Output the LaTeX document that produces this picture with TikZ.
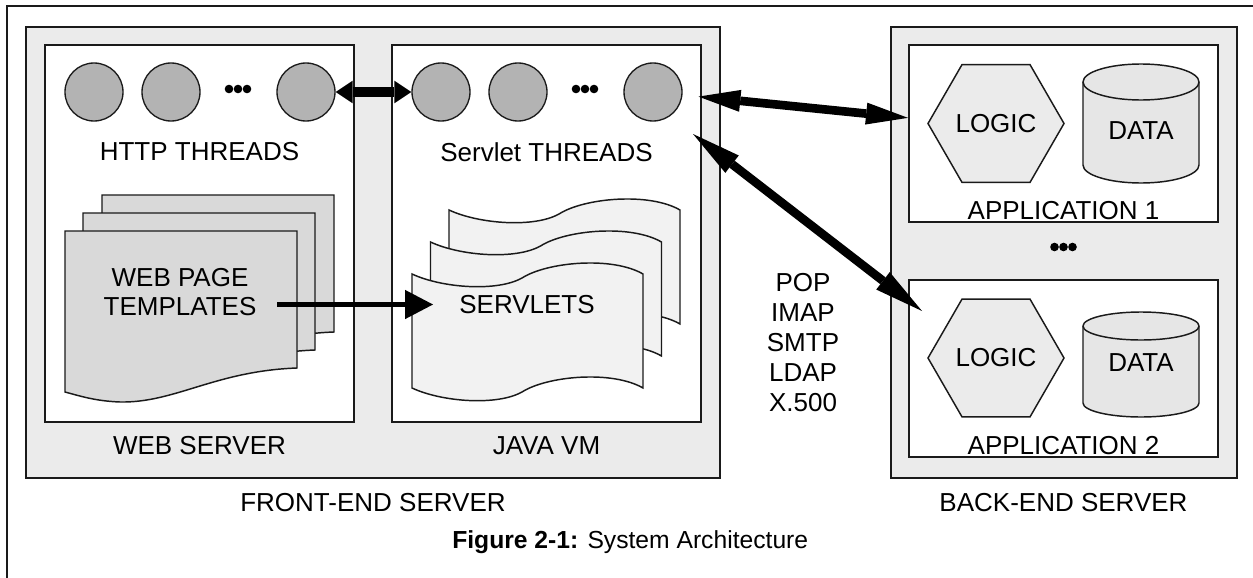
\documentclass[tikz,border=0pt]{standalone}
\usepackage{fontspec}
\setmainfont{Liberation Sans}
\usetikzlibrary{arrows.meta,shapes.geometric}
\definecolor{frontfill}{HTML}{EBEBEB}
\definecolor{circfill}{HTML}{B3B3B3}
\definecolor{pagefill}{HTML}{D9D9D9}
\definecolor{tapefill}{HTML}{F2F2F2}
\definecolor{hexfill}{HTML}{EBEBEB}
\definecolor{cylfill}{HTML}{E6E6E6}
\definecolor{ink}{HTML}{1A1A1A}
\tikzset{
  txt/.style={inner sep=0pt, text=black, font=\fontsize{19.5}{22}\selectfont},
  serverbox/.style={rectangle, draw=ink, line width=1.5pt, fill=frontfill, inner sep=0pt},
  innerbox/.style={rectangle, draw=ink, line width=1.5pt, fill=white, inner sep=0pt},
  thread/.style={circle, draw=ink, line width=1pt, fill=circfill, minimum size=43.5pt, inner sep=0pt},
  pageshape/.style={draw=ink, line width=1.1pt, fill=pagefill},
  tapeshape/.style={draw=ink, line width=1.1pt, fill=tapefill},
  hexa/.style={regular polygon, regular polygon sides=6, draw=ink, line width=1.1pt, fill=hexfill,
    minimum size=102pt, inner sep=0pt, text=black, font=\fontsize{19.5}{22}\selectfont},
  cyl/.style={draw=ink, line width=1.1pt, fill=cylfill},
  dotmark/.style={fill=black},
  threadarrow/.style={draw=black, line width=7.5pt,
    {Triangle[length=12.75pt,width=17pt,line width=0pt]}-{Triangle[length=12.75pt,width=17pt,line width=0pt]}},
  bearrowa/.style={draw=black, line width=6.5pt,
    {Triangle[length=31.5pt,width=16.5pt,line width=0pt]}-{Triangle[length=31.5pt,width=16.5pt,line width=0pt]}},
  bearrowb/.style={draw=black, line width=6.5pt,
    {Triangle[length=37pt,width=16.5pt,line width=0pt]}-{Triangle[length=37pt,width=16.5pt,line width=0pt]}},
  tplarrow/.style={draw=black, line width=3.75pt, -{Triangle[length=21pt,width=22pt,line width=0pt]}}
}
\begin{document}
\begin{tikzpicture}[x=0.75pt,y=-0.75pt]
\useasboundingbox (0,0) rectangle (1253,578);
\clip (0,0) rectangle (1253,578);
% outer frame
\draw[line width=1.5pt, ink] (6.5,600) -- (6.5,5.5) -- (1300,5.5);

% server boxes
\node[serverbox, minimum width=520.5pt, minimum height=338.25pt] (frontend) at (373,252.5) {};
\node[serverbox, minimum width=259.5pt, minimum height=338.25pt] (backend) at (1064,252.5) {};
\node[innerbox, minimum width=231.75pt, minimum height=282.75pt] (websrv) at (199.5,233.5) {};
\node[innerbox, minimum width=231.75pt, minimum height=282.75pt] (javavm) at (546.5,233.5) {};
\node[innerbox, minimum width=231.75pt, minimum height=132.75pt] (app1) at (1063.5,133.5) {};
\node[innerbox, minimum width=231.75pt, minimum height=132.75pt] (app2) at (1063.5,368.5) {};

% threads
\node[thread] (h1) at (94,92) {};
\node[thread] (h2) at (171,92) {};
\node[thread] (h3) at (306,92) {};
\node[thread] (s1) at (441,92) {};
\node[thread] (s2) at (518,92) {};
\node[thread] (s3) at (653,92) {};
\foreach \x in {229,238,247,576,585,594}{\fill[dotmark] (\x,89) circle[radius=4.3];}
\foreach \x in {1054.5,1063.5,1072.5}{\fill[dotmark] (\x,247) circle[radius=4.3];}
\node[txt] (httplbl) at (199.5,152) {HTTP THREADS};
\node[txt] (servletlbl) at (546.5,152) {Servlet THREADS};

% web page templates
\foreach \dx/\dy in {102/195,83/213,65/231}{
  \draw[pageshape, shift={(\dx,\dy)}] (0,0) -- (232,0) -- (232,137)
    .. controls (150,140) and (110,172) .. (55,171)
    .. controls (30,170) and (15,165) .. (0,161) -- cycle;
}
\node[txt, align=center] (tpl) at (180,292) {WEB PAGE\\TEMPLATES};

% servlets
\foreach \dx/\dy in {449/210,430.5/242,412/274}{
  \draw[tapeshape, shift={(\dx,\dy)}] (0,0)
    .. controls (30,14) and (85,18) .. (110,4)
    .. controls (135,-12) and (200,-18) .. (231,0) -- (231,114)
    .. controls (200,96) and (135,102) .. (110,118)
    .. controls (85,132) and (30,128) .. (0,114) -- cycle;
}
\node[txt] (servlets) at (527,305) {SERVLETS};

% back-end contents
\node[hexa] (logic1) at (996,123.5) {LOGIC};
\node[hexa] (logic2) at (996,358) {LOGIC};
\draw[cyl] (1083,82) -- (1083,165) arc[start angle=180,end angle=0,x radius=58,y radius=18]
  -- (1199,82) arc[start angle=0,end angle=-180,x radius=58,y radius=18] -- cycle;
\draw[cyl, fill=none] (1083,82) arc[start angle=180,end angle=0,x radius=58,y radius=18];
\draw[cyl] (1083,326) -- (1083,403) arc[start angle=180,end angle=0,x radius=58,y radius=14]
  -- (1199,326) arc[start angle=0,end angle=-180,x radius=58,y radius=14] -- cycle;
\draw[cyl, fill=none] (1083,326) arc[start angle=180,end angle=0,x radius=58,y radius=14];
\node[txt] (data1) at (1141,130.5) {DATA};
\node[txt] (data2) at (1141,363) {DATA};
\node[txt] (app1lbl) at (1063.5,211) {APPLICATION 1};
\node[txt] (app2lbl) at (1063.5,446) {APPLICATION 2};

% box labels
\node[txt] (websrvlbl) at (199.5,446) {WEB SERVER};
\node[txt] (javalbl) at (546.5,446) {JAVA VM};
\node[txt] (felbl) at (373,503) {FRONT-END SERVER};
\node[txt] (belbl) at (1063.5,503) {BACK-END SERVER};
\node[txt, align=center, font=\fontsize{19.5}{22.5}\selectfont] (proto) at (803,343) {POP\\IMAP\\SMTP\\LDAP\\X.500};
\node[txt, anchor=base west, font=\fontsize{18.5}{22}\selectfont] (caption) at (452,548) {\textbf{Figure 2-1:} System Architecture};

% connectors
\coordinate (tplA) at (277,304.5);
\coordinate (srvA) at (433,304.5);
\coordinate (a2s) at (693,134);
\coordinate (a2e) at (922,311);
\draw[threadarrow] (h3) -- (s1);
\draw[bearrowa, shorten <=12pt] (s3) -- (app1);
\draw[bearrowb] (a2s) -- (a2e);
\draw[tplarrow] (tplA) -- (srvA);
\end{tikzpicture}
\end{document}
